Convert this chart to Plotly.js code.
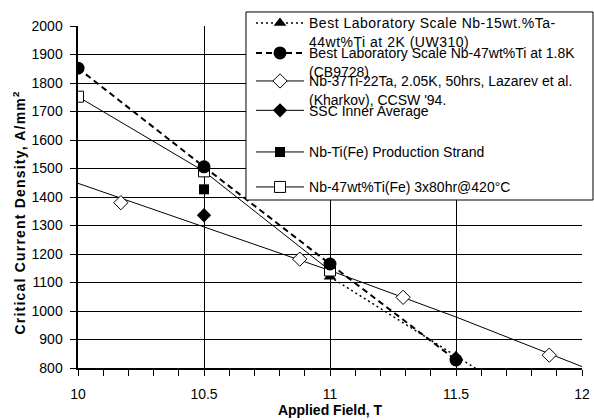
<!DOCTYPE html>
<html>
<head>
<meta charset="utf-8">
<script src="https://cdn.plot.ly/plotly-3.0.1.min.js"></script>
<style>
  html, body { margin: 0; padding: 0; background: #ffffff; }
  #chart { width: 594px; height: 420px; }
  .annotation-text { letter-spacing: 1.2px; }
  .legendtext { letter-spacing: 0.5px; }
</style>
</head>
<body>
<div id="chart"></div>
<script>
// Critical current density of Nb-Ti conductors versus applied field

// Best laboratory scale Nb-15wt.%Ta-44wt%Ti at 2K (UW310)
const uw310Field = [11, 11.5, 12];
const uw310Jc = [1120, 842, 564];

// Best laboratory scale Nb-47wt%Ti at 1.8K (CB9728)
const cb9728Field = [10, 10.5, 11, 11.5];
const cb9728Jc = [1852, 1506, 1165, 828];

// Nb-37Ti-22Ta, Lazarev et al.: measured points and fitted curve
const lazarevField = [10.17, 10.88, 11.29, 11.87];
const lazarevJc = [1380, 1182, 1048, 845];
const lazarevFitField = [10, 10.5, 11, 11.5, 12];
const lazarevFitJc = [1448, 1295, 1142, 979, 805];

// SSC inner average
const sscField = [10.5];
const sscJc = [1336];

// Nb-Ti(Fe) production strand
const strandField = [10.5];
const strandJc = [1427];

// Nb-47wt%Ti(Fe) 3x80hr@420°C
const fe420Field = [10, 10.5, 11];
const fe420Jc = [1752, 1490, 1142];

const seriesNames = [
  'Best Laboratory Scale Nb-15wt.%Ta-<br>44wt%Ti at 2K (UW310)',
  'Best Laboratory Scale Nb-47wt%Ti at 1.8K<br>(CB9728)',
  'Nb-37Ti-22Ta, 2.05K, 50hrs, Lazarev et al.<br>(Kharkov), CCSW \'94.',
  'SSC Inner Average',
  'Nb-Ti(Fe) Production Strand',
  'Nb-47wt%Ti(Fe) 3x80hr@420°C'
];

const xTickVals = [10, 10.5, 11, 11.5, 12];
const xTickText = ['10', '10.5', '11', '11.5', '12'];
const yTickVals = [800, 900, 1000, 1100, 1200, 1300, 1400, 1500, 1600, 1700, 1800, 1900, 2000];
const yTitle = '<b>Critical Current Density, A/mm<sup>2</sup></b>';
const xTitle = '<b>Applied Field, T</b>';

const FONT = '"Liberation Sans", Arial, Helvetica, sans-serif';
const INK = '#000000';

// drawing order: open squares sit underneath the filled circles
const traces = [
  {
    x: uw310Field, y: uw310Jc, name: seriesNames[0], legend: 'legend',
    mode: 'lines+markers',
    line: { color: INK, width: 1.5, dash: '2px,3px' },
    marker: { symbol: 'triangle-up', size: 11, color: INK }
  },
  {
    x: lazarevFitField, y: lazarevFitJc, name: seriesNames[2], showlegend: false,
    mode: 'lines',
    line: { color: INK, width: 1 }
  },
  {
    x: lazarevField, y: lazarevJc, name: seriesNames[2], showlegend: false,
    mode: 'markers',
    marker: { symbol: 'diamond', size: 11, color: '#ffffff', line: { color: INK, width: 1 } }
  },
  {
    x: [null], y: [null], name: seriesNames[2], legend: 'legend3',
    mode: 'lines+markers',
    line: { color: INK, width: 1 },
    marker: { symbol: 'diamond', size: 11, color: '#ffffff', line: { color: INK, width: 1 } }
  },
  {
    x: sscField, y: sscJc, name: seriesNames[3], legend: 'legend4',
    mode: 'lines+markers',
    line: { color: INK, width: 1 },
    marker: { symbol: 'diamond', size: 11, color: INK }
  },
  {
    x: strandField, y: strandJc, name: seriesNames[4], legend: 'legend5',
    mode: 'lines+markers',
    line: { color: INK, width: 1 },
    marker: { symbol: 'square', size: 10, color: INK }
  },
  {
    x: fe420Field, y: fe420Jc, name: seriesNames[5], legend: 'legend6',
    mode: 'lines+markers',
    line: { color: INK, width: 1 },
    marker: { symbol: 'square', size: 11, color: '#ffffff', line: { color: INK, width: 1 } }
  },
  {
    x: cb9728Field, y: cb9728Jc, name: seriesNames[1], legend: 'legend2',
    mode: 'lines+markers',
    line: { color: INK, width: 2, dash: '6px,4px' },
    marker: { symbol: 'circle', size: 13, color: INK }
  }
];

// one legend per entry so that every entry sits at its own height in the key
const legendTops = [1.0545, 0.9668, 0.8849, 0.7990, 0.6773, 0.5750];
function makeLegend(yTop) {
  return {
    x: 0.3433, y: yTop, xanchor: 'left', yanchor: 'top',
    bgcolor: 'rgba(0,0,0,0)', borderwidth: 0,
    valign: 'top', itemwidth: 48,
    font: { family: FONT, size: 14, color: INK }
  };
}

const layout = {
  width: 594, height: 420,
  margin: { l: 78, r: 12, t: 26, b: 52, autoexpand: false },
  paper_bgcolor: '#ffffff', plot_bgcolor: '#ffffff',
  font: { family: FONT, size: 14, color: INK },
  xaxis: {
    range: [10, 12],
    tickvals: xTickVals, ticktext: xTickText,
    ticks: 'outside', ticklen: 6, tickwidth: 1, tickcolor: INK,
    minor: { dtick: 0.1, ticks: 'outside', ticklen: 6, tickwidth: 1, tickcolor: INK, showgrid: false },
    showgrid: true, gridcolor: INK, gridwidth: 1,
    showline: true, linecolor: INK, linewidth: 2,
    zeroline: false,
    ticklabelstandoff: 6,
    tickfont: { family: FONT, size: 14, color: INK },
    title: { text: xTitle, font: { family: FONT, size: 14, color: INK }, standoff: 4 }
  },
  yaxis: {
    range: [800, 2000],
    tickvals: yTickVals,
    ticks: 'outside', ticklen: 6, tickwidth: 1, tickcolor: INK,
    showgrid: true, gridcolor: INK, gridwidth: 1,
    showline: true, linecolor: INK, linewidth: 2.5,
    zeroline: false,
    ticklabelstandoff: 4,
    tickfont: { family: FONT, size: 14, color: INK }
  },
  annotations: [
    {
      text: yTitle, textangle: -90, showarrow: false,
      xref: 'paper', yref: 'paper', x: -0.1151, y: 0.4547,
      xanchor: 'center', yanchor: 'middle',
      font: { family: FONT, size: 14, color: INK }
    }
  ],
  legend: makeLegend(legendTops[0]),
  legend2: makeLegend(legendTops[1]),
  legend3: makeLegend(legendTops[2]),
  legend4: makeLegend(legendTops[3]),
  legend5: makeLegend(legendTops[4]),
  legend6: makeLegend(legendTops[5]),
  shapes: [
    {
      type: 'rect', xref: 'paper', yref: 'paper', layer: 'above',
      x0: 0.3333, x1: 1.0218, y0: 0.4912, y1: 1.041,
      fillcolor: '#ffffff', line: { color: INK, width: 1 }
    }
  ]
};

Plotly.newPlot('chart', traces, layout, { displayModeBar: false, staticPlot: true });
</script>
</body>
</html>
